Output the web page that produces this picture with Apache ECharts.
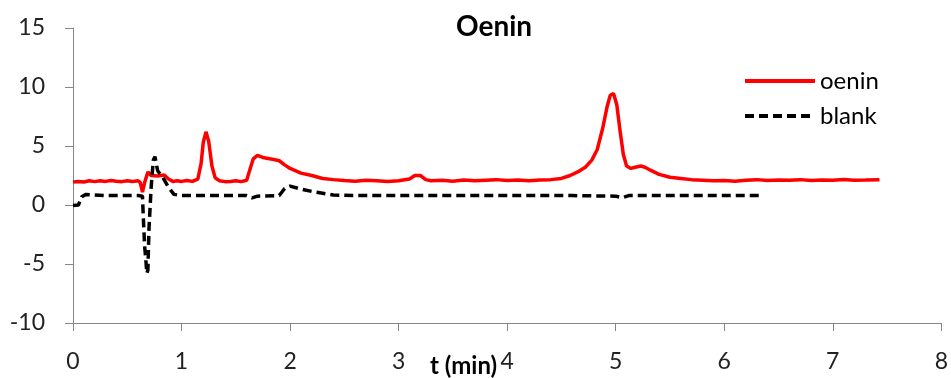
<!DOCTYPE html>
<html>
<head>
<meta charset="utf-8">
<script src="https://cdn.jsdelivr.net/npm/echarts@6/dist/echarts.min.js"></script>
<style>
  html, body { margin: 0; padding: 0; background: #fff; }
  #chart { width: 951px; height: 378px; }
</style>
</head>
<body>
<div id="chart"></div>
<script>
// time (min) and signal for the oenin run
const oeninT = [0, 0.05, 0.1, 0.15, 0.2, 0.25, 0.3, 0.35, 0.4, 0.45, 0.5, 0.55, 0.6, 0.62, 0.64, 0.66,
  0.69, 0.72, 0.78, 0.84, 0.88, 0.92, 0.96, 1.0, 1.05, 1.1, 1.15, 1.18, 1.2, 1.225, 1.25, 1.28, 1.31,
  1.35, 1.4, 1.45, 1.5, 1.55, 1.6, 1.63, 1.66, 1.7, 1.76, 1.85, 1.9, 1.95, 2.0, 2.1, 2.2, 2.3, 2.4,
  2.5, 2.6, 2.7, 2.8, 2.9, 3.0, 3.1, 3.15, 3.2, 3.25, 3.3, 3.4, 3.5, 3.6, 3.7, 3.8, 3.9, 4.0, 4.1,
  4.2, 4.3, 4.4, 4.5, 4.58, 4.65, 4.72, 4.78, 4.83, 4.88, 4.92, 4.95, 4.98, 5.01, 5.04, 5.07, 5.1,
  5.14, 5.18, 5.23, 5.27, 5.32, 5.4, 5.5, 5.6, 5.7, 5.8, 5.9, 6.0, 6.1, 6.2, 6.3, 6.4, 6.5, 6.6,
  6.7, 6.8, 6.9, 7.0, 7.1, 7.2, 7.3, 7.43];
const oeninY = [1.95, 2.0, 1.95, 2.05, 1.98, 2.05, 2.0, 2.08, 2.02, 1.98, 2.05, 2.0, 2.05, 1.9, 1.1, 1.9,
  2.8, 2.5, 2.45, 2.55, 2.2, 2.0, 2.05, 2.0, 2.08, 2.0, 2.2, 3.5, 5.3, 6.2, 5.4, 3.3, 2.3,
  2.05, 1.98, 2.0, 2.05, 1.98, 2.1, 3.0, 3.9, 4.2, 4.0, 3.85, 3.75, 3.4, 3.1, 2.7, 2.5, 2.25, 2.15,
  2.08, 2.02, 2.1, 2.05, 2.0, 2.05, 2.2, 2.5, 2.5, 2.15, 2.05, 2.1, 2.02, 2.12, 2.05, 2.1, 2.15, 2.08, 2.12,
  2.05, 2.12, 2.15, 2.25, 2.5, 2.8, 3.2, 3.8, 4.7, 6.5, 8.3, 9.3, 9.45, 8.5, 6.3, 4.3, 3.3,
  3.1, 3.2, 3.3, 3.2, 2.95, 2.6, 2.35, 2.25, 2.15, 2.1, 2.05, 2.08, 2.02, 2.1, 2.15, 2.08, 2.12, 2.1,
  2.15, 2.08, 2.12, 2.1, 2.16, 2.1, 2.12, 2.15];

// time (min) and signal for the blank run
const blankT = [0, 0.05, 0.08, 0.12, 0.2, 0.3, 0.4, 0.5, 0.6, 0.64, 0.65, 0.66, 0.67, 0.68, 0.69, 0.7,
  0.72, 0.74, 0.755, 0.78, 0.83, 0.88, 0.93, 1.0, 1.2, 1.4, 1.6, 1.65, 1.7, 1.9, 1.95, 2.0, 2.1, 2.2,
  2.3, 2.4, 2.6, 3.0, 3.4, 3.8, 4.2, 4.6, 5.0, 5.06, 5.12, 5.4, 5.8, 6.1, 6.33];
const blankY = [-0.05, 0.0, 0.7, 0.9, 0.85, 0.8, 0.8, 0.8, 0.8, 0.75, -1.5, -3.5, -4.5, -5.8, -5.5, -2.0,
  1.5, 3.8, 4.1, 2.9, 2.3, 1.5, 0.9, 0.8, 0.8, 0.8, 0.8, 0.6, 0.75, 0.8, 1.4, 1.6, 1.35, 1.15,
  1.0, 0.85, 0.8, 0.8, 0.8, 0.8, 0.8, 0.8, 0.75, 0.62, 0.8, 0.8, 0.8, 0.8, 0.8];

const xTicks = { min: 0, max: 8, interval: 1 };
const yTicks = { min: -10, max: 15, interval: 5 };

const font = "Lato, 'Open Sans', sans-serif";
const axisGray = "#868686";

const chart = echarts.init(document.getElementById("chart"));

const option = {
  animation: false,
  title: {
    text: "Oenin",
    left: 456,
    top: 13,
    padding: 0,
    textStyle: { fontFamily: font, fontSize: 28, fontWeight: "bold", color: "#000" },
  },
  legend: {
    orient: "vertical",
    left: 743,
    top: 69,
    padding: 0,
    itemWidth: 70,
    itemHeight: 14,
    itemGap: 11,
    itemStyle: { opacity: 0 },
    lineStyle: { width: 4 },
    textStyle: { fontFamily: font, fontSize: 24, color: "#000" },
    data: ["oenin", "blank"],
  },
  grid: { left: 73, right: 6, top: 28, bottom: 55 },
  xAxis: {
    type: "value",
    min: xTicks.min,
    max: xTicks.max,
    interval: xTicks.interval,
    axisLine: { onZero: false, lineStyle: { color: axisGray, width: 1 } },
    axisTick: { show: true, length: 8, lineStyle: { color: axisGray } },
    axisLabel: { margin: 27, fontFamily: font, fontSize: 23, color: "#222" },
    splitLine: { show: false },
  },
  yAxis: {
    type: "value",
    min: yTicks.min,
    max: yTicks.max,
    interval: yTicks.interval,
    axisLine: { show: true, lineStyle: { color: axisGray, width: 1 } },
    axisTick: { show: true, length: 8, lineStyle: { color: axisGray } },
    axisLabel: { margin: 28, fontFamily: font, fontSize: 23, color: "#222" },
    splitLine: { show: false },
  },
  graphic: [
    {
      type: "text",
      left: 430,
      top: 354,
      style: { text: "t (min)", font: "bold 24px " + font, fill: "#000" },
    },
  ],
  series: [
    {
      name: "oenin",
      type: "line",
      data: oeninT.map((t, i) => [t, oeninY[i]]),
      showSymbol: false,
      symbol: "none",
      lineStyle: { color: "#ff0000", width: 3.5 },
      itemStyle: { color: "#ff0000" },
    },
    {
      name: "blank",
      type: "line",
      data: blankT.map((t, i) => [t, blankY[i]]),
      showSymbol: false,
      symbol: "none",
      lineStyle: { color: "#000", width: 3.5, type: [9, 5] },
      itemStyle: { color: "#000" },
    },
  ],
};

chart.setOption(option);
</script>
</body>
</html>
